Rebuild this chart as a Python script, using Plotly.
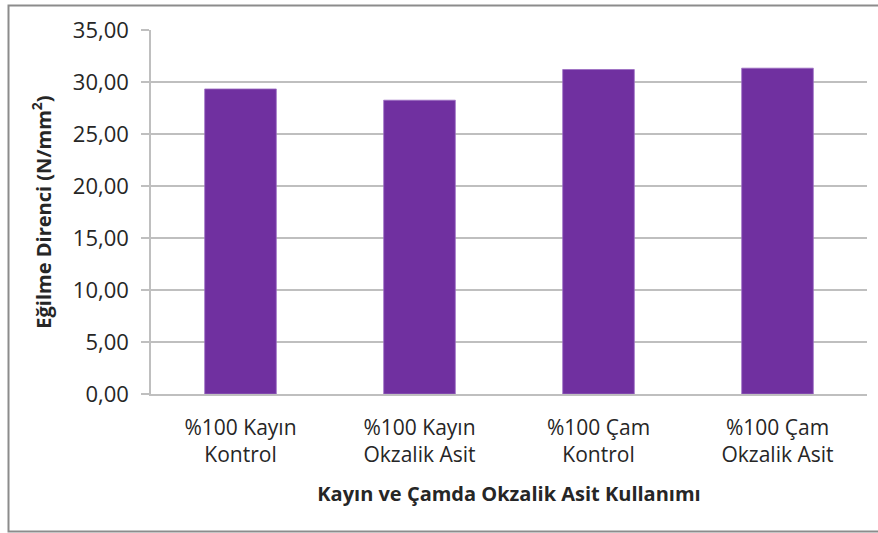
import plotly.graph_objects as go

# Bending strength by wood species and oxalic acid treatment
categories = [
    "%100 Kayın<br>Kontrol",
    "%100 Kayın<br>Okzalik Asit",
    "%100 Çam<br>Kontrol",
    "%100 Çam<br>Okzalik Asit",
]
values = [29.33, 28.25, 31.20, 31.33]
tick_vals = [0, 5, 10, 15, 20, 25, 30, 35]
tick_text = ["0,00", "5,00", "10,00", "15,00", "20,00", "25,00", "30,00", "35,00"]

FONT = "Open Sans"
TEXT = "#262626"
GRID = "#bfbfbf"

fig = go.Figure(
    go.Bar(
        x=categories,
        y=values,
        marker=dict(color="#7030a0", line=dict(color="#9a6cc2", width=0.8)),
        width=0.4,
    )
)

fig.update_layout(
    width=878,
    height=533,
    margin=dict(l=151, r=11, t=30, b=139),
    paper_bgcolor="white",
    plot_bgcolor="white",
    showlegend=False,
    font=dict(family=FONT, color=TEXT),
    xaxis=dict(
        showline=True,
        linecolor=GRID,
        linewidth=1.5,
        ticks="",
        ticklabelstandoff=14,
        tickfont=dict(size=21, family=FONT, color=TEXT),
        title=dict(
            text="<b>Kayın ve Çamda Okzalik Asit Kullanımı</b>",
            font=dict(size=20, family=FONT, color=TEXT),
            standoff=20,
        ),
    ),
    yaxis=dict(
        range=[0, 35],
        tickvals=tick_vals,
        ticktext=tick_text,
        showgrid=True,
        gridcolor=GRID,
        gridwidth=1.5,
        zeroline=False,
        showline=True,
        linecolor=GRID,
        linewidth=1.5,
        ticks="outside",
        ticklen=8,
        tickcolor=GRID,
        tickwidth=1.5,
        ticklabelstandoff=8,
        tickfont=dict(size=22, family=FONT, color=TEXT),
        title=dict(
            text="<b>Eğilme Direnci (N/mm<sup>2</sup>)</b>",
            font=dict(size=20, family=FONT, color=TEXT),
            standoff=16,
        ),
    ),
)

# Outer chart border
fig.add_shape(
    type="rect",
    xref="paper",
    yref="paper",
    x0=(8.5 - 151) / 716,
    x1=(885 - 151) / 716,
    y0=(394 - 531.5) / 364,
    y1=(394 - 5.5) / 364,
    line=dict(color="#8c8c8c", width=2),
    fillcolor="rgba(0,0,0,0)",
    layer="below",
)

fig.write_html("out.html")
